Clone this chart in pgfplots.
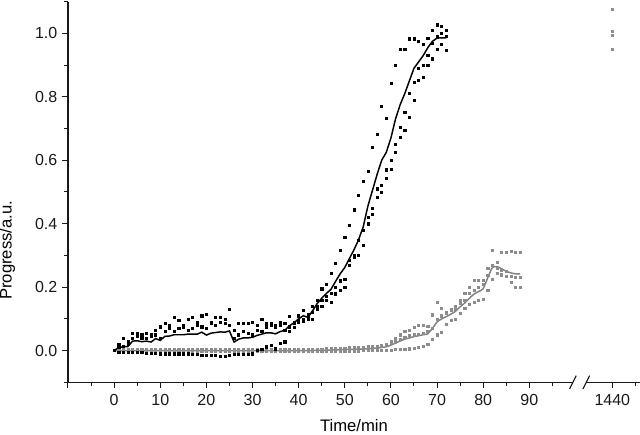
\documentclass[border=0pt]{standalone}
\usepackage{fontspec}
\setmainfont{Liberation Sans}
\usepackage{pgfplots}
\usepackage{pgfplotstable}
\pgfplotsset{compat=1.18}
\definecolor{gline}{RGB}{128,128,128}
\definecolor{gpt}{RGB}{140,140,140}

% black series: three replicates (H, M, L) and the averaged curve
\pgfplotstableread{
t H M L Line
0 0.000 0.000 0.000 0.000
1 0.020 0.010 -0.005 0.010
2 0.040 0.015 -0.005 0.012
3 0.030 0.020 -0.005 0.013
4 0.055 0.040 -0.005 0.030
5 0.055 0.045 -0.005 0.031
6 0.050 0.040 -0.005 0.028
7 0.055 0.040 -0.008 0.030
8 0.050 0.045 -0.008 0.027
9 0.065 0.050 -0.008 0.038
10 0.075 0.040 -0.010 0.032
11 0.085 0.060 -0.010 0.045
12 0.080 0.070 -0.010 0.046
13 0.105 0.060 -0.010 0.050
14 0.095 0.070 -0.010 0.050
15 0.080 0.075 -0.010 0.050
16 0.100 0.065 -0.010 0.052
17 0.105 0.070 -0.012 0.052
18 0.090 0.080 -0.012 0.052
19 0.110 0.075 -0.015 0.058
20 0.115 0.070 -0.015 0.049
21 0.090 0.085 -0.015 0.055
22 0.105 0.080 -0.015 0.057
23 0.105 0.090 -0.018 0.059
24 0.100 0.085 -0.018 0.058
25 0.130 0.080 -0.015 0.062
26 0.065 0.040 -0.012 0.027
27 0.085 0.050 -0.012 0.036
28 0.085 0.060 -0.012 0.040
29 0.085 0.055 -0.012 0.040
30 0.090 0.050 -0.010 0.042
31 0.080 0.065 0.000 0.048
32 0.100 0.060 0.005 0.052
33 0.085 0.075 0.012 0.056
34 0.085 0.080 0.016 0.056
35 0.080 0.075 0.006 0.053
36 0.090 0.080 0.023 0.060
37 0.085 0.065 0.028 0.064
38 0.107 0.075 0.060 0.078
39 0.090 0.085 0.074 0.088
40 0.110 0.097 0.090 0.100
41 0.126 0.100 0.094 0.110
42 0.115 0.105 0.100 0.105
43 0.140 0.120 0.100 0.125
44 0.160 0.140 0.131 0.148
45 0.195 0.160 0.140 0.165
46 0.210 0.170 0.160 0.180
47 0.245 0.180 0.152 0.193
48 0.275 0.200 0.179 0.218
49 0.315 0.220 0.190 0.242
50 0.357 0.226 0.200 0.262
51 0.394 0.284 0.270 0.290
52 0.444 0.300 0.294 0.318
53 0.490 0.347 0.300 0.350
54 0.535 0.379 0.331 0.390
55 0.566 0.420 0.400 0.455
56 0.640 0.450 0.430 0.505
57 0.683 0.510 0.484 0.555
58 0.770 0.520 0.500 0.600
59 0.733 0.570 0.542 0.625
60 0.843 0.600 0.573 0.670
61 0.900 0.650 0.626 0.730
62 0.949 0.705 0.673 0.775
63 0.951 0.752 0.694 0.810
64 0.983 0.810 0.736 0.850
65 0.983 0.847 0.789 0.890
66 0.975 0.890 0.852 0.910
67 0.967 0.900 0.862 0.930
68 0.985 0.930 0.900 0.955
69 1.009 0.970 0.920 0.975
70 1.027 0.990 0.951 0.985
71 1.022 1.000 0.967 0.986
72 1.011 0.990 0.946 0.986
}\blackdata

% grey series: three replicates (H, M, L) and the averaged curve
\pgfplotstableread{
t H M L Line
0 0.000 0.000 0.000 0.000
1 0.003 0.000 -0.003 0.000
2 0.003 0.000 -0.003 0.000
3 0.003 0.000 -0.003 0.000
4 0.003 0.000 -0.003 0.000
5 0.003 0.000 -0.003 0.000
6 0.003 0.000 -0.003 0.000
7 0.003 0.000 -0.003 0.000
8 0.003 0.000 -0.003 0.000
9 0.003 0.000 -0.003 0.000
10 0.003 0.000 -0.003 0.000
11 0.003 0.000 -0.003 0.000
12 0.003 0.000 -0.003 0.000
13 0.003 0.000 -0.003 0.000
14 0.003 0.000 -0.003 0.000
15 0.003 0.000 -0.003 0.000
16 0.003 0.000 -0.003 0.000
17 0.003 0.000 -0.003 0.000
18 0.003 0.000 -0.003 0.000
19 0.003 0.000 -0.003 0.000
20 0.003 0.000 -0.003 0.000
21 0.003 0.000 -0.003 0.000
22 0.003 0.000 -0.003 0.000
23 0.003 0.000 -0.003 0.000
24 0.003 0.000 -0.003 0.000
25 0.003 0.000 -0.003 0.000
26 0.003 0.000 -0.003 0.000
27 0.003 0.000 -0.003 0.000
28 0.003 0.000 -0.003 0.000
29 0.003 0.000 -0.003 0.000
30 0.003 0.000 -0.003 0.000
31 0.003 0.000 -0.003 0.000
32 0.003 0.000 -0.003 0.000
33 0.003 0.000 -0.003 0.000
34 0.003 0.000 -0.003 0.000
35 0.003 0.000 -0.003 0.000
36 0.003 0.000 -0.003 0.000
37 0.003 0.000 -0.003 0.000
38 0.003 0.000 -0.003 0.000
39 0.003 0.000 -0.003 0.000
40 0.004 0.000 -0.003 0.000
41 0.004 0.000 -0.003 0.000
42 0.004 0.000 -0.003 0.000
43 0.004 0.000 -0.002 0.000
44 0.005 0.000 -0.002 0.001
45 0.005 0.001 -0.002 0.001
46 0.006 0.001 -0.002 0.001
47 0.006 0.002 -0.002 0.002
48 0.007 0.002 -0.002 0.002
49 0.008 0.003 -0.002 0.003
50 0.008 0.003 -0.002 0.003
51 0.009 0.004 -0.001 0.004
52 0.010 0.004 -0.001 0.004
53 0.010 0.005 -0.001 0.005
54 0.011 0.005 0.000 0.005
55 0.012 0.006 0.000 0.006
56 0.013 0.008 0.000 0.007
57 0.014 0.010 0.000 0.008
58 0.016 0.013 0.000 0.010
59 0.020 0.016 0.001 0.012
60 0.030 0.022 0.002 0.017
61 0.040 0.028 0.003 0.024
62 0.050 0.035 0.004 0.030
63 0.060 0.042 0.005 0.036
64 0.065 0.048 0.006 0.040
65 0.074 0.050 0.008 0.044
66 0.079 0.052 0.010 0.047
67 0.079 0.055 0.013 0.050
68 0.077 0.060 0.021 0.053
69 0.113 0.070 0.037 0.070
70 0.152 0.100 0.050 0.090
71 0.133 0.110 0.058 0.100
72 0.119 0.120 0.084 0.107
73 0.126 0.130 0.095 0.115
74 0.131 0.140 0.100 0.124
75 0.158 0.150 0.119 0.138
76 0.182 0.160 0.133 0.150
77 0.200 0.180 0.147 0.165
78 0.221 0.190 0.152 0.178
79 0.223 0.200 0.158 0.186
80 0.223 0.210 0.163 0.195
81 0.237 0.260 0.190 0.230
82 0.315 0.270 0.226 0.262
83 0.279 0.260 0.245 0.265
84 0.310 0.255 0.239 0.258
85 0.310 0.250 0.235 0.250
86 0.312 0.235 0.216 0.245
87 0.310 0.230 0.200 0.242
88 0.309 0.230 0.200 0.242
}\greydata

% points at 1440 min; drawn at x = 108 on the broken axis
\pgfplotstableread{
t v
108 1.075
108 1.006
108 0.994
108 0.950
}\greylate

\begin{document}
\begin{tikzpicture}
\begin{axis}[
  scale only axis, width=429pt, height=285.5pt,
  xmin=-10, xmax=114, ymin=-0.1, ymax=1.1,
  axis lines=left,
  axis line style={-, line width=0.9pt, black!90},
  clip=false,
  xtick={-10,0,10,20,30,40,50,60,70,80,90,108},
  xticklabels={,0,10,20,30,40,50,60,70,80,90,1440},
  minor xtick={-5,5,15,25,35,45,55,65,75,85,95,113},
  ytick={0,0.2,0.4,0.6,0.8,1.0},
  minor ytick={-0.1,0.1,0.3,0.5,0.7,0.9,1.1},
  yticklabel style={/pgf/number format/fixed,/pgf/number format/fixed zerofill,/pgf/number format/precision=1},
  /pgf/number format/assume math mode=true,
  tick label style={font=\fontsize{12}{14}\selectfont, black!90},
  xticklabel style={yshift=-0.8pt},
  tick align=outside,
  major tick length=4.5pt, minor tick length=2.8pt,
  every tick/.style={black!90, line width=0.75pt},
  xlabel={Time/min}, ylabel={Progress/a.u.},
  xlabel style={font=\fontsize{12.5}{14}\selectfont, at={(axis description cs:0.5,-0.114)}, anchor=center},
  ylabel style={font=\fontsize{12.5}{14}\selectfont, at={(axis description cs:-0.106,0.347)}, anchor=center},
]
\addplot[only marks, mark=square*, mark size=0.8pt, color=gpt] table[x=t,y=H]{\greydata};
\addplot[only marks, mark=square*, mark size=0.8pt, color=gpt] table[x=t,y=M]{\greydata};
\addplot[only marks, mark=square*, mark size=0.8pt, color=gpt] table[x=t,y=L]{\greydata};
\addplot[only marks, mark=square*, mark size=0.8pt, color=gpt] table[x=t,y=v]{\greylate};
\addplot[only marks, mark=square*, mark size=0.8pt, color=black] table[x=t,y=H]{\blackdata};
\addplot[only marks, mark=square*, mark size=0.8pt, color=black] table[x=t,y=M]{\blackdata};
\addplot[only marks, mark=square*, mark size=0.8pt, color=black] table[x=t,y=L]{\blackdata};
\addplot[gline, line width=1.1pt, smooth, tension=0.4, mark=none] table[x=t,y=Line]{\greydata};
\addplot[black, line width=1.1pt, mark=none] table[x=t,y=Line]{\blackdata};
\coordinate (brA) at (axis cs:99.45,-0.1);
\coordinate (brB) at (axis cs:102.35,-0.1);
\end{axis}
\fill[white] ([xshift=0.2pt,yshift=-2pt]brA) rectangle ([xshift=-0.2pt,yshift=2pt]brB);
\draw[black!90, line width=0.8pt] ([xshift=-2.5pt,yshift=-5pt]brA) -- ([xshift=2.5pt,yshift=5pt]brA);
\draw[black!90, line width=0.8pt] ([xshift=-2.5pt,yshift=-5pt]brB) -- ([xshift=2.5pt,yshift=5pt]brB);
\pgfresetboundingbox
\path (-51pt,-39.5pt) rectangle (429pt,286.75pt);
\end{tikzpicture}
\end{document}
